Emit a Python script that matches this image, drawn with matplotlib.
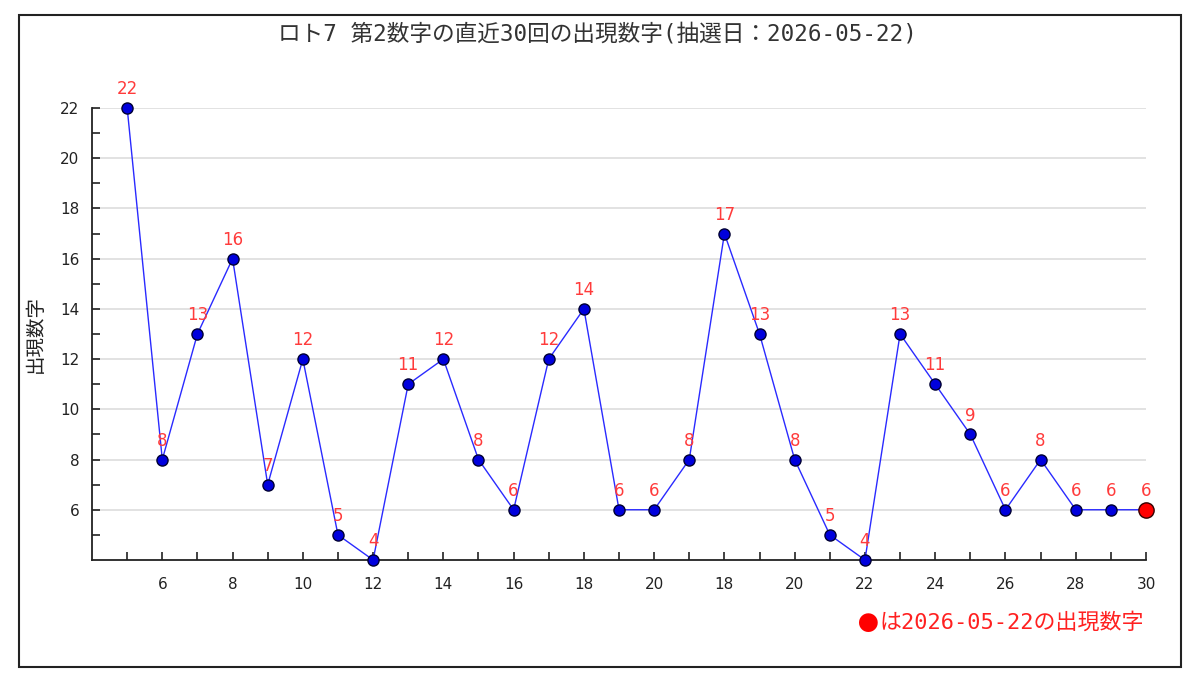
import matplotlib
matplotlib.use("Agg")
import matplotlib.pyplot as plt
from matplotlib.patches import Rectangle

plt.rcParams['font.family'] = ['DejaVu Sans', 'Noto Sans CJK JP']
MONO = ['DejaVu Sans Mono', 'Noto Sans CJK JP']

# x tick labels per draw (30 draws) and 2nd-number values
days = [5, 6, 7, 8, 9, 10, 11, 12, 13, 14, 15, 16, 17, 18, 19, 20,
        17, 18, 19, 20, 21, 22, 23, 24, 25, 26, 27, 28, 29, 30]
values = [22, 8, 13, 16, 7, 12, 5, 4, 11, 12, 8, 6, 12, 14, 6,
          6, 8, 17, 13, 8, 5, 4, 13, 11, 9, 6, 8, 6, 6, 6]
title = "ロト7 第2数字の直近30回の出現数字(抽選日：2026-05-22)"
note = "は2026-05-22の出現数字"

fig = plt.figure(figsize=(12, 6.87), dpi=100)
fig.patches.append(Rectangle((0.0158, 0.029), 0.968, 0.949, transform=fig.transFigure,
                             fill=False, edgecolor="#222222", linewidth=1.5))
ax = fig.add_axes([0.0767, 0.1849, 0.8783, 0.6579])

xs = list(range(1, len(values) + 1))
ax.plot(xs, values, color="#2a2aff", linewidth=1.0, zorder=3, clip_on=False)
ax.plot(xs[:-1], values[:-1], "o", color="#0000dd", markeredgecolor="#000033",
        markersize=8, zorder=4, clip_on=False)
ax.plot(xs[-1], values[-1], "o", color="#ff0000", markeredgecolor="#330000",
        markersize=11, zorder=5, clip_on=False)
for x, v in zip(xs, values):
    ax.annotate(str(v), (x, v), xytext=(0, 7), textcoords="offset points",
                ha="center", va="bottom", color="#ff3b3b", fontsize=12, zorder=6)

ax.set_xlim(0, len(values))
ax.set_ylim(4, 22)
ax.set_xticks(xs)
ax.set_xticklabels([str(d) if i % 2 == 1 else "" for i, d in enumerate(days)])
ax.set_yticks(range(6, 23, 2))
ax.set_yticks(range(5, 23, 2), minor=True)
ax.tick_params(axis="both", which="both", direction="in", length=6, width=1.2,
               colors="#222222", labelsize=11)
ax.tick_params(axis="x", pad=12)
ax.tick_params(axis="y", pad=9)
ax.grid(axis="y", which="major", color="#dddddd", linewidth=1.2, zorder=0)
for s in ("top", "right"):
    ax.spines[s].set_visible(False)
for s in ("left", "bottom"):
    ax.spines[s].set_linewidth(1.3)
    ax.spines[s].set_color("#222222")

ax.set_ylabel("出現数字", fontsize=14, color="#222222", labelpad=10,
              family=['Noto Sans CJK JP'])
fig.text(0.4975, 0.951, title, ha="center", va="center", fontsize=16.3,
         color="#333333", family=MONO)
fig.text(0.953, 0.094, note, ha="right", va="center", fontsize=15.8,
         color="#ff2020", family=MONO)
fig.text(0.7325, 0.090, "●", ha="right", va="center", fontsize=15,
         color="#ff0000", family=['Noto Sans CJK JP'])

fig.savefig("out.png", dpi=100)
